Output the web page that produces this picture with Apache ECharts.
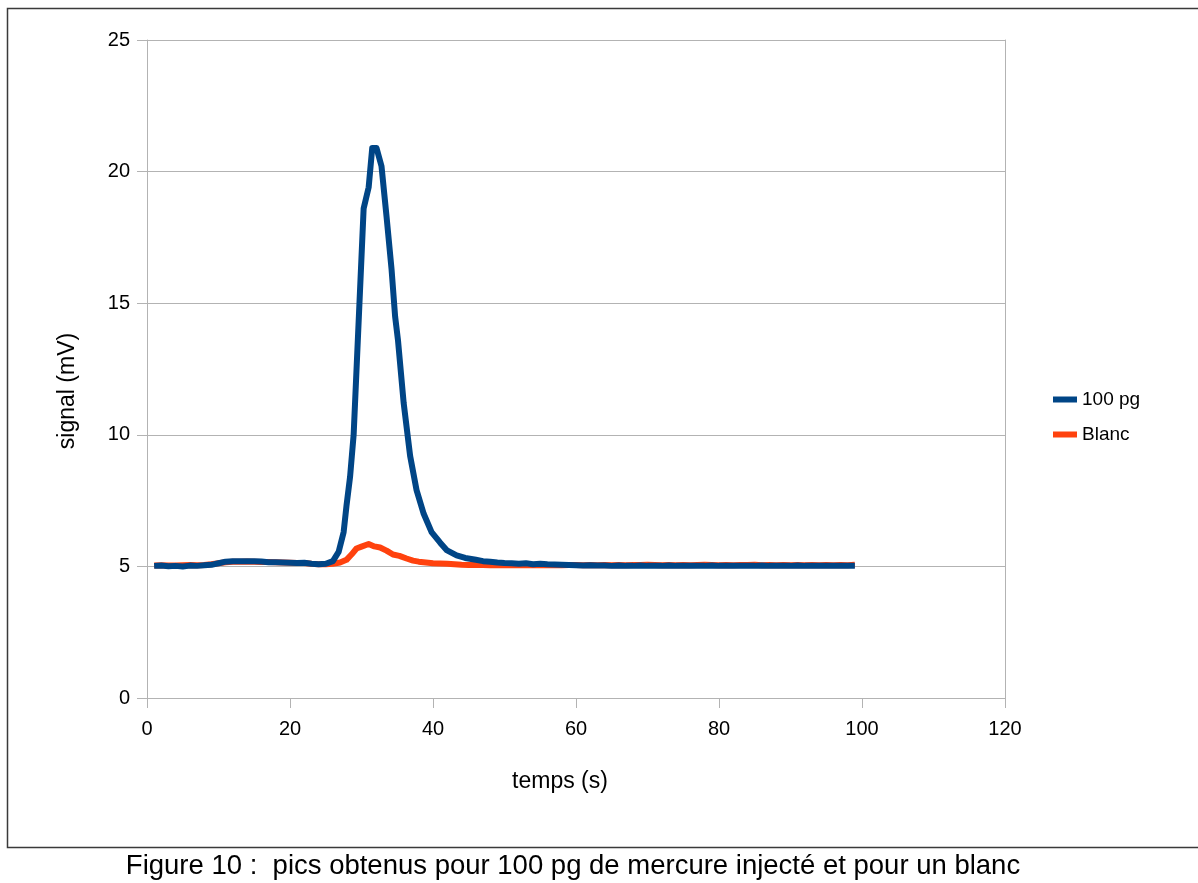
<!DOCTYPE html>
<html>
<head>
<meta charset="utf-8">
<script src="https://cdn.jsdelivr.net/npm/echarts@6/dist/echarts.min.js"></script>
<style>
html,body{margin:0;padding:0;background:#fff;}
#chart{width:1198px;height:883px;}
</style>
</head>
<body>
<div id="chart"></div>
<script>
// ---- data ----
const seriesNames = ['100 pg', 'Blanc'];
const xTicks = [0, 20, 40, 60, 80, 100, 120];
const yTicks = [0, 5, 10, 15, 20, 25];

const t100 = [1,2,3,4,5,6,7,8,9,10,11,12,13,14,15,16,17,18,19,20,21,22,23,24,25,26,26.8,27.5,27.9,28.4,28.9,30.3,31.0,31.5,32.1,32.8,33.5,34.2,34.7,35.1,35.9,36.8,37.7,38.7,39.8,41.0,41.9,43.3,44.5,46,47,48,49,50,51,52,53,54,55,56,57,58,59,60,61,62,63,64,65,66,67,68,69,70,71,72,73,74,75,76,77,78,79,80,81,82,83,84,85,86,87,88,89,90,91,92,93,94,95,96,97,98,99];
const v100 = [5.02,5.03,5.01,5.02,5.00,5.03,5.02,5.04,5.06,5.12,5.18,5.20,5.20,5.20,5.20,5.19,5.16,5.16,5.15,5.14,5.13,5.14,5.10,5.08,5.10,5.20,5.55,6.30,7.30,8.40,10.0,18.6,19.4,20.9,20.9,20.2,18.3,16.3,14.5,13.6,11.2,9.2,7.9,7.0,6.3,5.9,5.62,5.42,5.32,5.25,5.20,5.18,5.15,5.13,5.12,5.10,5.12,5.08,5.10,5.08,5.07,5.06,5.05,5.04,5.03,5.04,5.03,5.03,5.02,5.03,5.02,5.02,5.03,5.02,5.02,5.02,5.03,5.02,5.02,5.02,5.02,5.02,5.03,5.02,5.02,5.02,5.02,5.02,5.02,5.03,5.02,5.02,5.02,5.02,5.03,5.02,5.02,5.02,5.02,5.02,5.02,5.02,5.02,5.02];

const tBlanc = [1,2,3,4,5,6,7,8,9,10,11,12,13,14,15,16,17,18,19,20,21,22,23,24,25,26,27,27.9,28.6,29.3,30.0,31.0,31.8,32.6,33.5,34.4,35.3,36.3,37.2,38,39,40,41,42,43,44,45,46,47,48,49,50,51,52,53,54,55,56,57,58,59,60,61,62,63,64,65,66,67,68,69,70,71,72,73,74,75,76,77,78,79,80,81,82,83,84,85,86,87,88,89,90,91,92,93,94,95,96,97,98,99];
const vBlanc = [5.03,5.04,5.03,5.03,5.04,5.05,5.04,5.05,5.08,5.12,5.16,5.18,5.18,5.19,5.18,5.17,5.17,5.16,5.15,5.14,5.13,5.13,5.10,5.08,5.08,5.10,5.15,5.25,5.45,5.68,5.75,5.85,5.76,5.72,5.60,5.45,5.40,5.30,5.22,5.18,5.15,5.12,5.11,5.10,5.08,5.06,5.05,5.06,5.05,5.04,5.05,5.04,5.05,5.04,5.05,5.04,5.05,5.04,5.05,5.04,5.05,5.05,5.04,5.05,5.04,5.05,5.04,5.05,5.04,5.05,5.05,5.06,5.05,5.04,5.05,5.04,5.05,5.04,5.05,5.06,5.05,5.04,5.05,5.04,5.05,5.05,5.06,5.04,5.05,5.04,5.05,5.04,5.05,5.04,5.05,5.04,5.05,5.04,5.05,5.04,5.06];

const xTitle = 'temps (s)';
const yTitle = 'signal (mV)';
const caption = 'Figure 10 :  pics obtenus pour 100 pg de mercure injecté et pour un blanc';

const colors = ['#004586', '#ff420e'];
const pairs = (ts, vs) => ts.map((t, i) => [t, vs[i]]);

const chart = echarts.init(document.getElementById('chart'), null, {renderer: 'canvas'});
const font = 'Liberation Sans, Arial, sans-serif';
chart.setOption({
  animation: false,
  backgroundColor: '#ffffff',
  textStyle: {fontFamily: font},
  grid: {left: 147, right: 193, top: 40, bottom: 185, containLabel: false},
  legend: {
    orient: 'vertical', left: 1053, top: 390, padding: 0,
    data: seriesNames,
    icon: 'rect', itemWidth: 24, itemHeight: 6, itemGap: 16,
    textStyle: {fontSize: 19, color: '#000', fontFamily: font}
  },
  xAxis: {
    type: 'value', min: xTicks[0], max: xTicks[xTicks.length-1], interval: 20,
    axisLine: {show: true, lineStyle: {color: '#b3b3b3', width: 1}},
    axisTick: {show: true, length: 10, lineStyle: {color: '#b3b3b3'}},
    axisLabel: {fontSize: 20, color: '#000', margin: 21, fontFamily: font},
    splitLine: {show: false}
  },
  yAxis: [{
    type: 'value', min: yTicks[0], max: yTicks[yTicks.length-1], interval: 5,
    axisLine: {show: true, lineStyle: {color: '#b3b3b3', width: 1}},
    axisTick: {show: true, length: 10, lineStyle: {color: '#b3b3b3'}},
    axisLabel: {fontSize: 20, color: '#000', margin: 17, fontFamily: font},
    splitLine: {show: true, lineStyle: {color: '#b3b3b3', width: 1}}
  }, {
    type: 'value', position: 'right', min: 0, max: 25, interval: 5,
    axisLine: {show: true, lineStyle: {color: '#b3b3b3', width: 1}},
    axisTick: {show: false}, axisLabel: {show: false}, splitLine: {show: false}
  }],
  series: [{
    name: seriesNames[0], type: 'line', data: pairs(t100, v100),
    showSymbol: false, symbol: 'none', z: 3,
    lineStyle: {color: colors[0], width: 6, join: 'round', cap: 'butt'},
    itemStyle: {color: colors[0]}
  }, {
    name: seriesNames[1], type: 'line', data: pairs(tBlanc, vBlanc),
    showSymbol: false, symbol: 'none', z: 2,
    lineStyle: {color: colors[1], width: 6, join: 'round', cap: 'butt'},
    itemStyle: {color: colors[1]}
  }],
  graphic: [
    {type: 'rect', shape: {x: 7.5, y: 8.5, width: 1200, height: 839}, style: {fill: null, stroke: '#3a3a3a', lineWidth: 1.5}, z: 0, silent: true},
    {type: 'text', style: {text: xTitle, font: '23px ' + font, fill: '#000', textAlign: 'center', textVerticalAlign: 'middle'}, x: 560, y: 782},
    {type: 'text', style: {text: yTitle, font: '23px ' + font, fill: '#000', textAlign: 'center', textVerticalAlign: 'middle'}, x: 68, y: 391, rotation: Math.PI/2},
    {type: 'text', style: {text: caption, font: '27.5px ' + font, fill: '#000', textAlign: 'center', textVerticalAlign: 'middle'}, x: 573, y: 866}
  ]
});
</script>
</body>
</html>
